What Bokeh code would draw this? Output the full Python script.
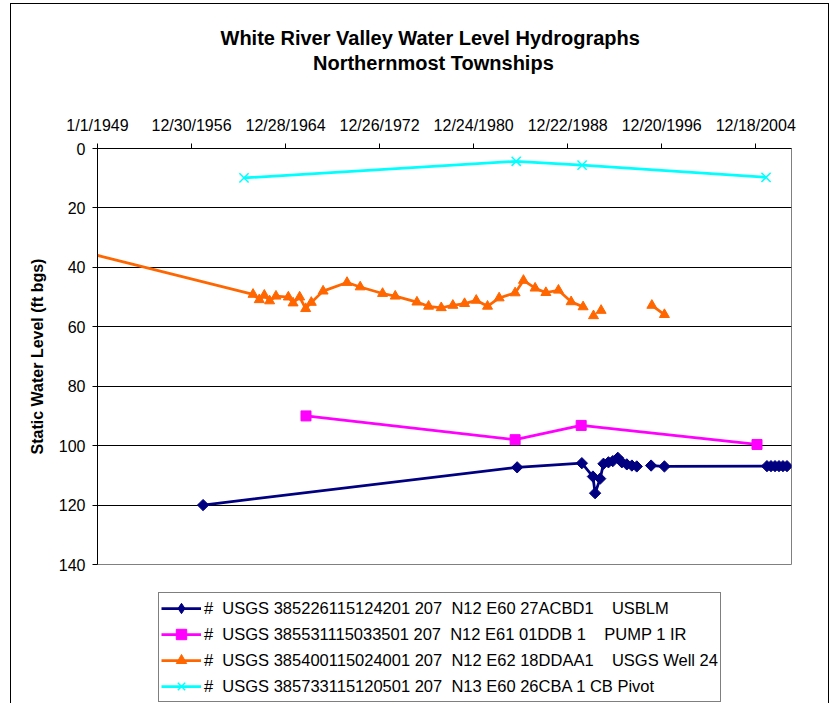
import numpy as np
import pandas as pd
from bokeh.plotting import figure
from bokeh.layouts import column
from bokeh.models import Range1d, FixedTicker, Legend, LegendItem, Title
from bokeh.embed import file_html
from bokeh.resources import INLINE

FONT = "Liberation Sans"

title_lines = ["White River Valley Water Level Hydrographs", "Northernmost Townships"]
y_title = "Static Water Level (ft bgs)"

origin_date = "1949-01-01"
axis_end_date = "2008-01-02"
tick_dates = ["1949-01-01", "1956-12-30", "1964-12-28", "1972-12-26",
              "1980-12-24", "1988-12-22", "1996-12-20", "2004-12-18"]
tick_labels = ["1/1/1949", "12/30/1956", "12/28/1964", "12/26/1972",
               "12/24/1980", "12/22/1988", "12/20/1996", "12/18/2004"]
y_ticks = [0, 20, 40, 60, 80, 100, 120, 140]

# Series 1: USBLM (navy diamonds); None = gap in record
blue_name = "#  USGS 385226115124201 207  N12 E60 27ACBD1    USBLM"
blue_dates = ["1957-12-24", "1984-09-05", "1990-03-07", "1991-02-14", "1991-04-22",
              "1991-09-27", "1992-01-08", "1992-06-10", "1992-10-23", "1993-03-28",
              "1993-07-31", "1994-01-01", "1994-06-07", "1994-11-06", "1995-06-01",
              "1996-01-26", "1997-03-14", "2005-12-01", "2006-04-05", "2006-08-08",
              "2006-12-10", "2007-04-12", "2007-08-15"]
blue_levels = [120.0, 107.3, 105.9, 110.4, 116.0,
               111.1, 106.1, 105.6, 105.2, 104.1,
               105.6, 106.3, 106.7, 107.0, None,
               106.7, 107.0, 106.9, 106.9, 106.9,
               106.9, 106.9, 106.9]

# Series 2: PUMP 1 IR (magenta squares)
pink_name = "#  USGS 385531115033501 207  N12 E61 01DDB 1    PUMP 1 IR"
pink_dates = ["1966-09-23", "1984-07-04", "1990-02-14", "2005-01-26"]
pink_levels = [90.0, 98.0, 93.2, 99.6]

# Series 3: USGS Well 24 (orange triangles)
orange_name = "#  USGS 385400115024001 207  N12 E62 18DDAA1    USGS Well 24"
orange_dates = ["1946-01-01", "1962-03-24", "1962-10-04", "1963-03-09", "1963-08-21",
                "1964-03-05", "1965-03-24", "1965-08-18", "1966-03-10", "1966-09-13",
                "1967-03-07", "1968-03-07", "1970-03-20", "1971-05-03", "1973-03-28",
                "1974-04-26", "1976-02-28", "1977-02-24", "1978-03-24", "1979-03-20",
                "1980-03-17", "1981-03-14", "1982-02-28", "1983-02-24", "1984-07-04",
                "1985-03-20", "1986-03-17", "1987-02-14", "1988-03-10", "1989-04-08",
                "1990-04-15", "1990-10-01", "1991-03-04", "1991-06-01", "1991-10-26",
                "1994-01-01", "1996-02-18", "1997-03-14"]
orange_levels = [33.0, 49.1, 50.9, 49.4, 51.3,
                 49.7, 50.0, 52.0, 50.0, 53.9,
                 51.8, 48.0, 45.1, 46.6, 48.8,
                 49.7, 51.7, 53.1, 53.6, 52.8,
                 52.2, 51.1, 53.1, 50.3, 48.6,
                 44.4, 47.0, 48.5, 47.7, 51.6,
                 53.3, None, 56.3, None, 54.5,
                 None, 52.8, 55.9]

# Series 4: CB Pivot (cyan crosses)
cyan_name = "#  USGS 385733115120501 207  N13 E60 26CBA 1 CB Pivot"
cyan_dates = ["1961-06-16", "1984-08-07", "1990-03-14", "2005-11-03"]
cyan_levels = [9.9, 4.3, 5.6, 9.7]


def to_days(dates):
    return ((pd.to_datetime(dates) - pd.Timestamp(origin_date)).days).astype(float).to_numpy()


def to_vals(vals):
    return np.array([np.nan if v is None else v for v in vals], dtype=float)


x_end = float((pd.Timestamp(axis_end_date) - pd.Timestamp(origin_date)).days)
tick_x = [float(v) for v in to_days(tick_dates)]

W = 817
p = figure(width=W, height=576,
           x_range=Range1d(0, x_end), y_range=Range1d(140, 0),
           x_axis_location="above",
           output_backend="svg", toolbar_location=None,
           min_border_left=86, min_border_right=37,
           min_border_top=144, min_border_bottom=16)

p.background_fill_color = "white"
p.border_fill_color = "white"
p.outline_line_color = "#808080"
p.outline_line_width = 1

# x axis (top); its label carries the second title line
xa = p.xaxis[0]
xa.ticker = FixedTicker(ticks=tick_x)
xa.major_label_overrides = {t: lab for t, lab in zip(tick_x, tick_labels)}
xa.minor_tick_line_color = None
xa.major_tick_out = 5
xa.major_tick_in = 0
xa.major_label_standoff = 10
xa.major_label_text_font = FONT
xa.major_label_text_font_size = "16px"
xa.major_label_text_color = "black"
xa.axis_line_color = "black"
xa.major_tick_line_color = "black"
xa.axis_label = title_lines[1] + "    "
xa.axis_label_text_font = FONT
xa.axis_label_text_font_size = "20px"
xa.axis_label_text_font_style = "bold"
xa.axis_label_text_color = "black"
xa.axis_label_standoff = 40

# y axis
ya = p.yaxis[0]
ya.ticker = FixedTicker(ticks=y_ticks)
ya.minor_tick_line_color = None
ya.major_tick_out = 5
ya.major_tick_in = 0
ya.major_label_standoff = 7
ya.major_label_text_font = FONT
ya.major_label_text_font_size = "16px"
ya.major_label_text_color = "black"
ya.axis_line_color = "black"
ya.major_tick_line_color = "black"
ya.axis_label = y_title
ya.axis_label_text_font = FONT
ya.axis_label_text_font_size = "16px"
ya.axis_label_text_font_style = "bold"
ya.axis_label_text_color = "black"
ya.axis_label_standoff = 10

p.xgrid.visible = False
p.ygrid.ticker = FixedTicker(ticks=y_ticks)
p.ygrid.grid_line_color = "black"
p.ygrid.grid_line_width = 1

p.add_layout(Title(text=title_lines[0], text_font=FONT, text_font_style="bold",
                   text_font_size="20px", text_color="black",
                   align="left", offset=123, standoff=0), "above")

series = [
    (blue_name, blue_dates, blue_levels, "#000080",
     dict(marker="square", size=8, angle=np.pi / 4), dict(marker="diamond")),
    (pink_name, pink_dates, pink_levels, "#FF00FF",
     dict(marker="square", size=10), dict(marker="square")),
    (orange_name, orange_dates, orange_levels, "#FF6600",
     dict(marker="triangle", size=10), dict(marker="triangle")),
    (cyan_name, cyan_dates, cyan_levels, "#00FFFF",
     dict(marker="x", size=13), dict(marker="x")),
]

# Legend panel: a frame-only figure under the chart (frames are aligned in the column)
pl = figure(width=W, height=124, x_range=Range1d(0, 1), y_range=Range1d(0, 1),
            output_backend="svg", toolbar_location=None,
            min_border=0, min_border_left=0, min_border_right=0,
            min_border_top=0, min_border_bottom=0)
pl.axis.visible = False
pl.grid.visible = False
pl.outline_line_color = None
pl.background_fill_color = "white"
pl.border_fill_color = "white"

items = []
for name, dates, levels, color, mk, lmk in series:
    xs = to_days(dates)
    ys = to_vals(levels)
    p.line(xs, ys, line_color=color, line_width=2.75)
    if mk["marker"] == "x":
        p.scatter(xs, ys, line_color=color, line_width=1.5, **mk)
        ls = pl.scatter([-5], [-5], line_color=color, line_width=1.5, size=10, **lmk)
    else:
        p.scatter(xs, ys, fill_color=color, line_color=color, line_width=1, **mk)
        ls = pl.scatter([-5], [-5], fill_color=color, line_color=color, line_width=1, size=10, **lmk)
    ll = pl.line([-5, -4], [-5, -4], line_color=color, line_width=2.75)
    items.append(LegendItem(label=name, renderers=[ll, ls]))

legend = Legend(items=items, location=(61, 2),
                label_text_font=FONT, label_text_font_size="16.5px", label_text_color="black",
                glyph_width=40, glyph_height=26, label_height=20,
                spacing=0, padding=2, label_standoff=3, margin=0,
                border_line_color="black", border_line_width=1,
                background_fill_color="white", background_fill_alpha=1.0)
pl.add_layout(legend, "center")

layout = column(p, pl, spacing=0)
layout.margin = (4, 0, 0, 11)
layout.styles = {"box-shadow": "-1px -1px 0 0 black, 1px -1px 0 0 black"}

open("out.html", "w").write(file_html(layout, INLINE))
